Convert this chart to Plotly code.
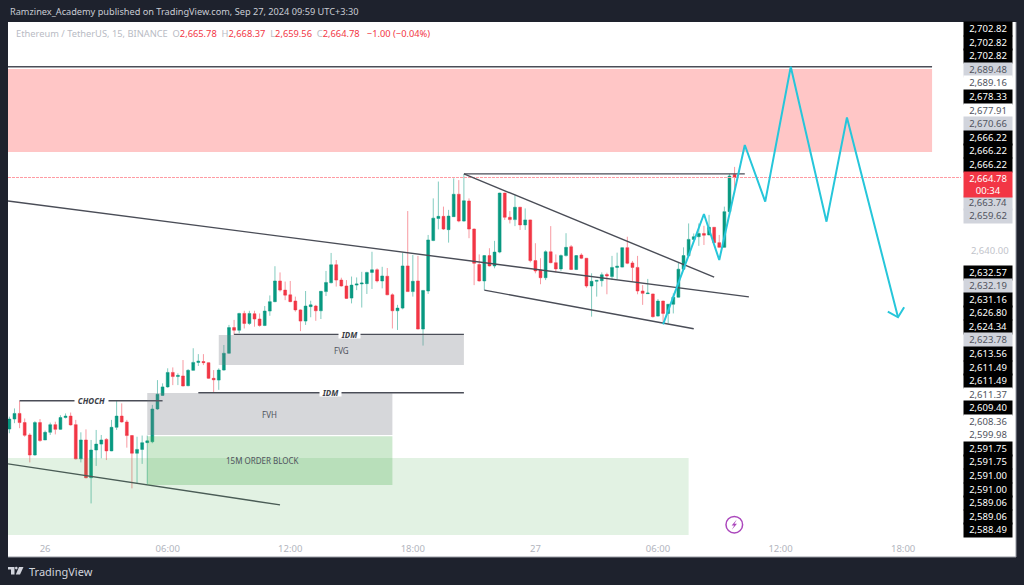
import pandas as pd
import plotly.graph_objects as go

# ---------- chart data (prices) ----------
bar_start = "2024-09-25 22:15"
opens = [2579.5,2582.9,2584.8,2581.7,2577.5,2570.7,2581.7,2575.8,2578.4,2581.0,2579.4,2583.4,2583.9,2581.0,2569.4,2575.8,2563.0,2572.4,2574.4,2576.0,
2572.1,2580.1,2583.9,2581.9,2577.3,2571.3,2572.6,2574.9,2575.2,2586.3,2590.9,2593.8,2598.7,2597.3,2597.5,2594.2,2599.4,2602.1,2602.4,2602.0,
2596.7,2596.1,2599.5,2605.2,2613.9,2613.0,2618.7,2615.3,2618.6,2616.8,2614.6,2619.5,2622.7,2629.7,2626.6,2625.0,2622.9,2619.9,2616.1,2621.0,
2621.2,2619.6,2626.1,2629.1,2635.2,2630.0,2628.0,2623.9,2628.3,2628.7,2628.8,2632.6,2633.5,2629.7,2631.3,2625.0,2619.6,2620.5,2634.8,2626.1,
2629.7,2613.4,2626.3,2643.4,2650.9,2651.6,2647.1,2651.5,2659.1,2650.0,2656.8,2647.3,2635.3,2629.7,2638.3,2634.8,2639.5,2659.5,2651.3,2650.5,
2654.7,2648.7,2650.4,2636.6,2633.4,2630.8,2639.6,2635.9,2633.8,2638.3,2641.3,2633.6,2638.5,2637.4,2628.0,2629.6,2629.8,2631.9,2631.2,2634.3,
2634.4,2641.0,2635.8,2634.3,2626.3,2625.4,2625.3,2617.8,2622.9,2618.7,2621.8,2624.2,2633.7,2638.3,2643.8,2644.7,2645.8,2645.3,2647.9,2642.7,
2641.1,2653.2,2665.78]
highs = [2583.7,2586.5,2589.1,2583.1,2578.1,2582.2,2582.9,2579.0,2581.7,2582.0,2584.2,2584.8,2585.1,2582.6,2578.4,2579.4,2575.8,2579.2,2577.5,2576.4,
2582.6,2589.0,2588.2,2582.6,2577.5,2576.9,2577.3,2577.3,2587.7,2596.1,2595.0,2600.1,2600.4,2598.4,2602.9,2599.8,2606.9,2604.9,2604.9,2602.1,
2599.5,2600.1,2608.0,2614.8,2616.5,2618.9,2619.6,2619.6,2619.6,2618.7,2621.2,2624.8,2634.7,2632.6,2629.5,2629.7,2624.4,2620.1,2626.3,2623.0,
2621.6,2626.3,2633.1,2639.2,2636.8,2630.8,2630.0,2631.2,2630.9,2632.8,2632.8,2639.6,2634.0,2634.5,2634.1,2625.5,2621.6,2639.3,2653.4,2638.5,
2638.2,2626.6,2645.3,2657.7,2663.4,2654.9,2653.8,2664.5,2663.9,2665.9,2657.7,2647.5,2638.7,2638.5,2640.8,2643.3,2659.6,2659.6,2653.4,2658.9,
2654.8,2654.3,2650.5,2642.5,2637.4,2640.1,2648.3,2638.7,2638.7,2645.9,2641.9,2638.5,2639.1,2637.5,2632.3,2630.0,2632.6,2632.5,2638.2,2639.3,
2641.1,2644.7,2636.5,2638.2,2628.3,2630.4,2625.4,2623.6,2623.0,2621.9,2625.5,2635.9,2641.1,2649.2,2645.8,2649.2,2648.4,2652.1,2648.0,2645.3,
2654.9,2666.0,2668.37]
lows = [2578.1,2581.5,2579.8,2576.9,2568.2,2570.5,2575.2,2575.8,2577.5,2577.7,2579.2,2583.1,2580.7,2569.2,2568.2,2562.8,2554.3,2567.0,2569.6,2569.0,
2572.0,2579.2,2581.7,2573.2,2559.4,2560.9,2567.7,2560.9,2574.7,2586.0,2590.7,2593.5,2594.4,2594.4,2594.0,2594.0,2599.3,2600.9,2601.2,2596.5,
2591.8,2592.8,2599.3,2605.0,2611.4,2612.0,2613.6,2614.8,2614.2,2614.2,2614.4,2617.9,2622.5,2626.1,2623.2,2622.5,2619.3,2612.7,2614.8,2617.4,
2616.2,2616.8,2624.6,2628.9,2627.8,2627.8,2623.6,2622.1,2626.6,2620.7,2625.3,2627.0,2629.2,2627.2,2624.9,2613.6,2613.1,2620.1,2626.0,2624.4,
2613.3,2607.8,2625.3,2643.2,2647.2,2647.0,2642.7,2651.4,2649.6,2649.8,2644.2,2628.3,2629.5,2626.6,2634.6,2634.0,2639.1,2650.4,2649.2,2648.3,
2647.0,2647.0,2636.0,2632.3,2628.6,2630.0,2635.7,2632.6,2633.1,2638.0,2633.4,2633.4,2637.1,2627.4,2617.6,2624.4,2627.8,2625.2,2630.0,2630.3,
2634.3,2635.4,2629.5,2625.2,2621.6,2625.3,2617.3,2617.6,2615.3,2615.3,2618.7,2624.1,2633.6,2637.9,2643.6,2641.6,2641.9,2645.2,2642.5,2641.0,
2641.0,2653.0,2659.56]
closes = [2582.9,2584.8,2581.7,2577.4,2570.7,2581.7,2575.6,2578.4,2581.0,2579.4,2583.4,2583.9,2580.9,2569.4,2575.8,2563.0,2572.4,2574.4,2575.8,2572.1,
2580.1,2583.9,2581.9,2577.3,2571.3,2572.6,2574.9,2575.5,2586.3,2591.3,2593.8,2598.7,2597.3,2597.7,2594.1,2599.4,2602.1,2602.5,2602.0,2596.7,
2596.2,2599.5,2605.2,2613.9,2613.0,2618.7,2615.3,2618.7,2616.8,2614.6,2619.5,2622.7,2629.7,2626.6,2624.9,2622.7,2619.9,2616.1,2621.2,2621.6,
2619.6,2626.2,2629.2,2635.2,2630.0,2628.0,2623.8,2628.3,2628.7,2629.0,2632.6,2633.5,2629.7,2631.4,2625.0,2619.6,2620.5,2634.8,2626.1,2629.6,
2613.4,2626.5,2643.6,2651.0,2651.6,2647.3,2651.7,2659.1,2650.0,2656.9,2647.3,2635.7,2629.7,2638.3,2634.8,2639.5,2659.5,2651.3,2650.5,2654.7,
2648.7,2650.4,2636.6,2633.1,2630.8,2639.6,2635.9,2633.8,2638.3,2641.1,2633.6,2638.3,2637.4,2628.0,2629.6,2629.9,2631.8,2631.4,2634.3,2634.7,
2641.0,2635.7,2634.3,2626.3,2625.5,2625.6,2617.6,2622.9,2618.7,2621.8,2624.2,2633.7,2638.3,2643.8,2644.7,2645.8,2645.2,2647.9,2642.7,2641.1,
2653.2,2665.3,2664.78]

last_price = 2664.78
axis_tick_times = ["2024-09-26 00:00","2024-09-26 06:00","2024-09-26 12:00","2024-09-26 18:00",
                   "2024-09-27 00:00","2024-09-27 06:00","2024-09-27 12:00","2024-09-27 18:00"]
axis_tick_labels = ["26","06:00","12:00","18:00","27","06:00","12:00","18:00"]

forecast_t = ["2024-09-27 06:15","2024-09-27 08:15","2024-09-27 09:00","2024-09-27 10:15","2024-09-27 11:15",
              "2024-09-27 12:30","2024-09-27 14:15","2024-09-27 15:15","2024-09-27 17:45"]
forecast_p = [2615.0,2652.4,2636.8,2675.8,2656.6,2702.3,2649.8,2685.1,2617.4]
arrow_t = ["2024-09-27 17:15","2024-09-27 17:45","2024-09-27 18:03"]
arrow_p = [2619.3,2617.4,2620.8]

left_t = "2024-09-25 22:11"
right_t = "2024-09-27 20:50"
drawn_lines = [
    (left_t,"2024-09-27 19:25",2702.3,2702.3),
    (left_t,"2024-09-27 10:27",2656.8,2624.3),
    (left_t,"2024-09-26 11:30",2567.7,2553.8),
    ("2024-09-26 20:30","2024-09-27 08:45",2666.0,2631.0),
    ("2024-09-26 20:30","2024-09-27 10:15",2666.0,2666.0),
    ("2024-09-26 21:30","2024-09-27 07:45",2626.6,2613.5),
    ("2024-09-25 22:45","2024-09-26 05:45",2589.1,2589.1),
    ("2024-09-26 07:30","2024-09-26 20:30",2591.8,2591.8),
    ("2024-09-26 09:15","2024-09-26 20:30",2611.6,2611.6),
]
zones = {
    "supply": (left_t,"2024-09-27 19:25",2701.6,2673.4),
    "fvg": ("2024-09-26 08:30","2024-09-26 20:30",2611.4,2601.2),
    "fvh": ("2024-09-26 05:00","2024-09-26 17:00",2591.7,2577.5),
    "ob": ("2024-09-26 05:00","2024-09-26 17:00",2577.1,2560.5),
    "ob_wide": (left_t,"2024-09-27 07:30",2569.7,2543.6),
}
zone_text = [("FVG","2024-09-26 14:30",2606.1),("FVH","2024-09-26 11:00",2584.4),
             ("15M ORDER BLOCK","2024-09-26 10:37",2568.8)]
line_text = [("CHOCH","2024-09-26 02:15",2589.1),("IDM","2024-09-26 14:53",2611.6),("IDM","2024-09-26 13:59",2591.8)]

stack_top = ["2,702.82","2,702.82","2,702.82","2,689.48","2,689.16","2,678.33","2,677.91","2,670.66","2,666.22","2,666.22","2,666.22"]
stack_mid = ["2,663.74","2,659.62"]
stack_low = ["2,632.57","2,632.19","2,631.16","2,626.80","2,624.34","2,623.78","2,613.56","2,611.49","2,611.49","2,611.37",
             "2,609.40","2,608.36","2,599.98","2,591.75","2,591.75","2,591.00","2,591.00","2,589.06","2,589.06","2,588.49"]

# ---------- styles and layout ----------
W, H = 1024, 585
PL, PR, PT, PB = 8, 961, 22, 535
DARK = "#1E222D"
FONT = "Noto Sans"
def px(v): return (v-PL)/(PR-PL)
def py(v): return (PB-v)/(PB-PT)

times = pd.date_range(bar_start, periods=len(opens), freq="15min")
fig = go.Figure()
fig.add_trace(go.Candlestick(
    x=times, open=opens, high=highs, low=lows, close=closes, whiskerwidth=0,
    increasing=dict(line=dict(color="rgba(8,153,129,0.5)", width=1), fillcolor="#089981"),
    decreasing=dict(line=dict(color="rgba(242,54,69,0.5)", width=1), fillcolor="#F23645"),
    hoverinfo="skip", showlegend=False))
fig.add_trace(go.Scatter(x=[left_t,right_t], y=[last_price,last_price], mode="lines",
                         line=dict(color="#FF9AA2", width=1, dash="3px,1px"),
                         hoverinfo="skip", showlegend=False))
for x0,x1,y0,y1 in drawn_lines:
    fig.add_trace(go.Scatter(x=[x0,x1], y=[y0,y1], mode="lines", line=dict(color="#4A4D57", width=1.4),
                             hoverinfo="skip", showlegend=False))
fig.add_trace(go.Scatter(x=forecast_t, y=forecast_p, mode="lines", line=dict(color="#26C6DA", width=2),
                         hoverinfo="skip", showlegend=False))
fig.add_trace(go.Scatter(x=arrow_t, y=arrow_p, mode="lines", line=dict(color="#26C6DA", width=2),
                         hoverinfo="skip", showlegend=False))

shapes = []
# white chart panel and its edges
shapes.append(dict(type="rect", xref="paper", yref="paper", x0=px(8), x1=px(1016), y0=py(22), y1=py(557),
                   fillcolor="white", line_width=0, layer="below"))
shapes.append(dict(type="line", xref="paper", yref="paper", x0=px(1016), x1=px(1016), y0=py(22), y1=py(557),
                   line=dict(color="#9598A1", width=1), layer="below"))
shapes.append(dict(type="line", xref="paper", yref="paper", x0=px(8), x1=px(1016), y0=py(557), y1=py(557),
                   line=dict(color="#9598A1", width=1), layer="below"))
zone_fill = {"supply":"rgba(255,82,82,0.33)","fvg":"rgba(120,123,134,0.3)","fvh":"rgba(120,123,134,0.3)",
             "ob":"rgba(76,175,80,0.28)","ob_wide":"rgba(76,175,80,0.16)"}
zone_layer = {"supply":"below","fvg":"above","fvh":"above","ob":"above","ob_wide":"above"}
for k,(x0,x1,y0,y1) in zones.items():
    shapes.append(dict(type="rect", xref="x", yref="y", x0=x0, x1=x1, y0=y0, y1=y1,
                       fillcolor=zone_fill[k], line_width=0, layer=zone_layer[k]))
# alert icon
shapes.append(dict(type="circle", xref="paper", yref="paper", x0=px(726), x1=px(742.6), y0=py(516.4), y1=py(533),
                   line=dict(color="#AB47BC", width=1.5), fillcolor="rgba(0,0,0,0)", layer="above"))
def pth(points):
    return "M " + " L ".join(f"{px(a):.5f},{py(b):.5f}" for a,b in points) + " Z"
shapes.append(dict(type="path", xref="paper", yref="paper", path=pth([(736.8,519.6),(731.6,525.6),(734.2,525.6),(731.8,529.8),(737,523.8),(734.4,523.8)]),
                   fillcolor="#AB47BC", line_width=0, layer="above"))
# logo
logo = [[(8,567),(14.5,567),(14.5,574.5),(11,574.5),(11,569.5),(8,569.5)],
        [(19,567),(23.5,567),(20,574.5),(15.8,574.5)]]
for p in logo:
    shapes.append(dict(type="path", xref="paper", yref="paper", path=pth(p), fillcolor="#D1D4DC", line_width=0, layer="above"))
shapes.append(dict(type="circle", xref="paper", yref="paper", x0=px(15), x1=px(17.6), y0=py(566.8), y1=py(569.4),
                   fillcolor="#D1D4DC", line_width=0, layer="above"))

ann = []
for txt,t,p in zone_text:
    ann.append(dict(x=t, y=p, xref="x", yref="y", text=txt, showarrow=False,
                    font=dict(family=FONT, size=8, color="#50535E")))
for txt,t,p in line_text:
    ann.append(dict(x=t, y=p, xref="x", yref="y", text=f"<b><i>{txt}</i></b>", showarrow=False, bgcolor="white", borderpad=0,
                    width=33 if txt=="CHOCH" else 21, height=7, font=dict(family=FONT, size=8, color="#3A3D46")))

def stack_label(text, yc, kind):
    bg, fg = {"black":("#000000","#FFFFFF"),"gray":("#D1D4DC","#50535E"),"white":("#FFFFFF","#50535E")}[kind]
    ann.append(dict(x=px(988), y=py(yc), xref="paper", yref="paper", text=text, showarrow=False, xanchor="center", yanchor="middle",
                    width=48, height=13.5, bgcolor=bg, borderpad=0, align="center",
                    font=dict(family=FONT, size=9.5, color=fg)))
kinds_top = ["black","black","black","gray","white","black","white","gray","black","black","black"]
for i,t in enumerate(stack_top):
    stack_label(t, 29+13.6*i, kinds_top[i])
for i,t in enumerate(stack_mid):
    stack_label(t, 202.7+13.4*i, "gray")
kinds_low = ["black","gray","black","black","black","gray","black","black","black","white","black","white","white"]+["black"]*7
for i,t in enumerate(stack_low):
    stack_label(t, 272.7+13.55*i, kinds_low[i])
# live price tag
ann.append(dict(x=px(988), y=py(184.2), xref="paper", yref="paper",
                text=f"{last_price:,.2f}<br>00:34", showarrow=False, xanchor="center", yanchor="middle",
                width=48, height=25, bgcolor="#F23645", borderpad=0, align="center",
                font=dict(family=FONT, size=9.5, color="#FFFFFF")))
# header, legend, logo text
ann.append(dict(x=px(8), y=py(12), xref="paper", yref="paper", xanchor="left", yanchor="middle", showarrow=False,
                text="Ramzinex_Academy published on TradingView.com, Sep 27, 2024 09:59 UTC+3:30",
                font=dict(family=FONT, size=9.2, color="#C9CCD4")))
R = "#F23645"
def rs(s): return f'<span style="color:{R}">{s}</span>'
ann.append(dict(x=px(14), y=py(33.5), xref="paper", yref="paper", xanchor="left", yanchor="middle", showarrow=False,
                text="Ethereum / TetherUS, 15, BINANCE  O"+rs("2,665.78")+"  H"+rs("2,668.37")+"  L"+rs("2,659.56")+"  C"+rs("2,664.78")+"   "+rs("−1.00 (−0.04%)"),
                font=dict(family=FONT, size=9.3, color="#B8BBC4")))
ann.append(dict(x=px(27), y=py(571), xref="paper", yref="paper", xanchor="left", yanchor="middle", showarrow=False,
                text="TradingView", font=dict(family=FONT, size=11, color="#D1D4DC")))

fig.update_layout(
    width=W, height=H, margin=dict(l=PL, r=W-PR, t=PT, b=H-PB, autoexpand=False),
    paper_bgcolor=DARK, plot_bgcolor="rgba(0,0,0,0)", showlegend=False, boxgap=0.2,
    shapes=shapes, annotations=ann, font=dict(family=FONT),
    xaxis=dict(type="date", range=[left_t, right_t], tickmode="array", tickvals=axis_tick_times, ticktext=axis_tick_labels,
               showgrid=False, zeroline=False, showline=False, rangeslider=dict(visible=False),
               ticks="outside", ticklen=5, tickcolor="rgba(0,0,0,0)", tickfont=dict(family=FONT, size=9.5, color="#B2B5BE"), tickangle=0),
    yaxis=dict(side="right", range=[2543.59, 2717.49], tickmode="array", tickvals=[2640], ticktext=["2,640.00"],
               showgrid=False, zeroline=False, showline=False,
               ticks="outside", ticklen=7, tickcolor="rgba(0,0,0,0)", tickfont=dict(family=FONT, size=9.5, color="#C2C4CB")),
)
fig.write_html("out.html", config=dict(displayModeBar=False), post_script="document.body.style.margin='0';")
